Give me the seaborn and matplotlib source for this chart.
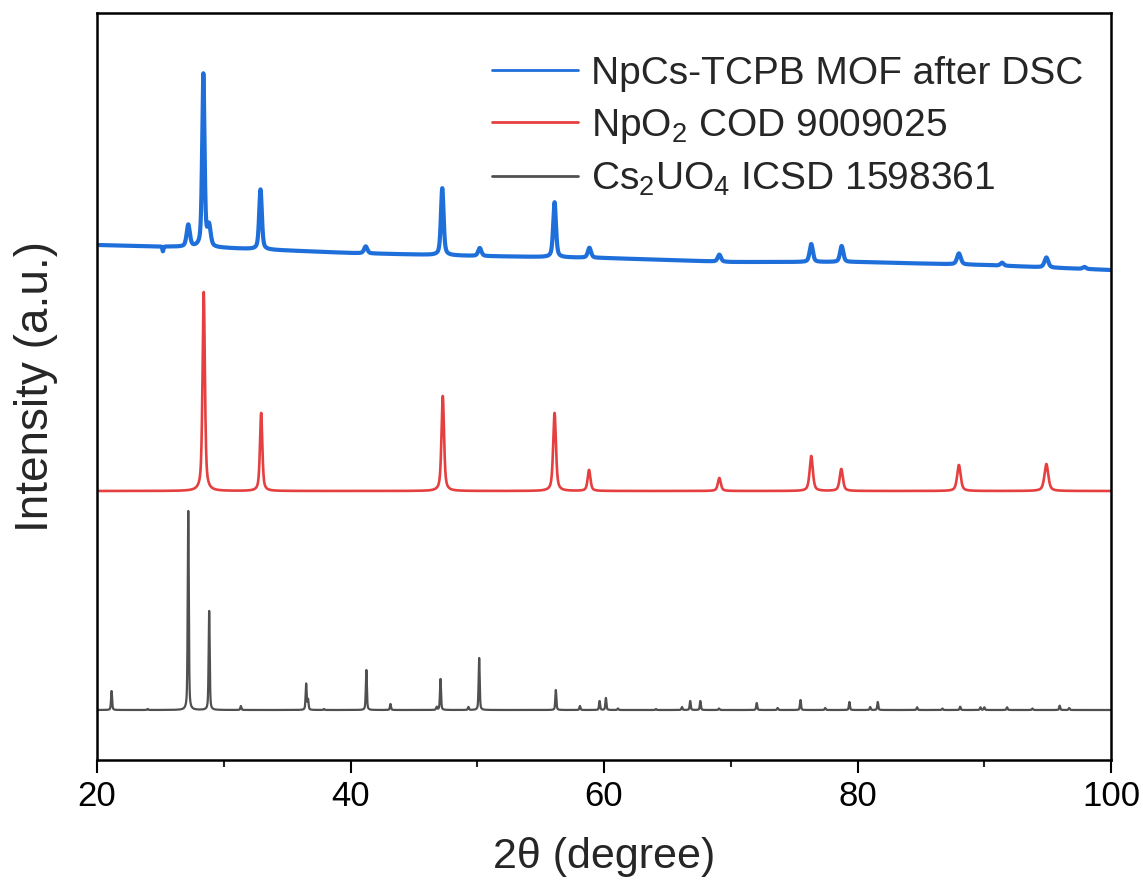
import numpy as np
import pandas as pd
import matplotlib
matplotlib.use("Agg")
import matplotlib.pyplot as plt
import seaborn as sns

# ---------------- data ----------------
# Offsets/heights are in arbitrary intensity units (stacked plot)
# Blue: NpCs-TCPB MOF after DSC (measured pattern)
blue_bg_x = [20, 30, 40, 50, 60, 70, 80, 90, 100]
blue_bg_y = [515, 512, 507, 504, 502, 498, 498, 495, 490]
blue_pos = [25.2, 27.2, 28.39, 28.84, 32.9, 41.2, 47.24, 50.2, 56.1, 58.85, 69.1, 76.35, 78.75, 88.0, 91.4, 94.9, 97.9]
blue_hgt = [-5, 22, 173, 20, 60, 7, 67, 8, 55, 10, 7, 18, 16, 11, 3, 10, 2]
blue_fwhm = [0.1, 0.3, 0.22, 0.3, 0.25, 0.3, 0.25, 0.3, 0.26, 0.3, 0.3, 0.3, 0.3, 0.35, 0.3, 0.35, 0.3]

# Red: NpO2 COD 9009025 (reference pattern)
red_base = 269
red_pos = [28.42, 32.95, 47.28, 56.1, 58.82, 69.1, 76.35, 78.72, 88.0, 94.9]
red_hgt = [199, 78, 95, 78, 21, 13, 35, 22, 26, 27]
red_fwhm = [0.22, 0.22, 0.24, 0.26, 0.26, 0.28, 0.3, 0.3, 0.33, 0.36]

# Gray: Cs2UO4 ICSD 1598361 (reference pattern)
gray_base = 50
gray_pos = [21.15, 24.0, 27.2, 28.85, 31.35, 36.5, 36.65, 37.9, 41.25, 43.15, 46.8, 47.1, 49.3, 50.15,
            56.2, 58.1, 59.65, 60.15, 61.1, 64.1, 66.15, 66.8, 67.6, 69.07, 72.05, 73.7, 75.5, 77.45,
            79.36, 81.0, 81.6, 84.7, 86.7, 88.1, 89.7, 90.0, 91.8, 93.8, 95.95, 96.7]
gray_hgt = [19, 1, 199, 99, 4, 26, 10, 1, 40, 6, 3, 31, 3, 52,
            20, 4, 9, 12, 1.5, 1, 3, 9, 9, 1.5, 7, 2, 10, 2,
            8, 3, 8, 2.7, 1.5, 3.3, 2.7, 2.7, 2.7, 1.5, 4.3, 2]
gray_fwhm = 0.1

labels = ["NpCs-TCPB MOF after DSC", "NpO$_2$ COD 9009025", "Cs$_2$UO$_4$ ICSD 1598361"]
colors = ["#1F6FDB", "#E5403F", "#505050"]

x_ticks = [20, 40, 60, 80, 100]
x_minor = [30, 50, 70, 90]


def pattern(x, pos, hgt, fwhm, eta=0.55):
    y = np.zeros_like(x)
    fw = np.broadcast_to(np.asarray(fwhm, dtype=float), (len(pos),))
    for p, h, w in zip(pos, hgt, fw):
        g = w / 2.0
        lor = 1.0 / (1.0 + ((x - p) / g) ** 2)
        gau = np.exp(-np.log(2) * ((x - p) / g) ** 2)
        y += h * (eta * lor + (1 - eta) * gau)
    return y


x = np.linspace(20, 100, 16001)
y_blue = np.interp(x, blue_bg_x, blue_bg_y) + pattern(x, blue_pos, blue_hgt, blue_fwhm, eta=0.5)
y_red = red_base + pattern(x, red_pos, red_hgt, red_fwhm, eta=0.6)
y_gray = gray_base + pattern(x, gray_pos, gray_hgt, gray_fwhm, eta=0.5)

df = pd.concat([
    pd.DataFrame({"x": x, "y": y_blue, "series": labels[0]}),
    pd.DataFrame({"x": x, "y": y_red, "series": labels[1]}),
    pd.DataFrame({"x": x, "y": y_gray, "series": labels[2]}),
])

# ---------------- style ----------------
sns.set_style("ticks")
plt.rcParams["font.family"] = ["Liberation Sans", "DejaVu Sans"]
plt.rcParams["mathtext.fontset"] = "custom"
plt.rcParams["mathtext.rm"] = "Liberation Sans"
plt.rcParams["mathtext.it"] = "Liberation Sans:italic"
plt.rcParams["mathtext.bf"] = "Liberation Sans:bold"

W, H = 1143, 892
fig = plt.figure(figsize=(W / 100, H / 100), dpi=100)
ax = fig.add_axes([97 / W, 132 / H, (1111 - 97) / W, (760 - 13) / H])

lws = [3.0, 1.9, 1.6]
for lab, col, lw in zip(labels, colors, lws):
    sub = df[df["series"] == lab]
    sns.lineplot(data=sub, x="x", y="y", color=col, lw=lw, ax=ax, label=lab,
                 estimator=None, sort=False)

ax.set_xlim(20, 100)
ax.set_ylim(0, 747)
ax.set_xticks(x_ticks)
ax.set_xticks(x_minor, minor=True)
ax.set_yticks([])
ax.tick_params(axis="x", which="major", direction="out", length=9.5, width=1.5,
               labelsize=25, pad=5, colors="black")
ax.tick_params(axis="x", which="minor", direction="out", length=5, width=1.5)
for s in ax.spines.values():
    s.set_linewidth(1.8)
    s.set_color("black")
    s.set_visible(True)

ax.set_xlabel("2θ (degree)", fontsize=31, labelpad=17)
ax.set_ylabel("Intensity (a.u.)", fontsize=33, labelpad=28)

leg = ax.legend(loc="upper left", bbox_to_anchor=(492 / W, 1 - 56 / H),
                bbox_transform=fig.transFigure, frameon=False, fontsize=28,
                handlelength=2.2, handletextpad=0.35, labelspacing=0.38,
                borderpad=0, borderaxespad=0)
for line in leg.get_lines():
    line.set_linewidth(2.0)

fig.savefig("out.png", dpi=100)
